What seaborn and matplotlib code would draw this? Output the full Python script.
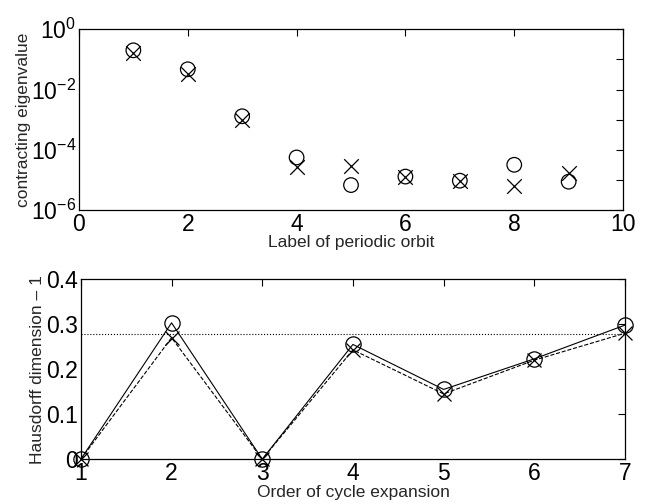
import numpy as np
import pandas as pd
import matplotlib
matplotlib.use("Agg")
import matplotlib.pyplot as plt
import matplotlib.ticker as mticker
import seaborn as sns

# top panel: contracting eigenvalues per periodic orbit
orbit_label = [1, 2, 3, 4, 5, 6, 7, 8, 9]
eig_circle = [0.2, 0.047, 1.3e-3, 5.6e-5, 6.8e-6, 1.3e-5, 9.5e-6, 3.2e-5, 8.8e-6]
eig_cross = [0.16, 0.032, 1.0e-3, 2.6e-5, 3.0e-5, 1.3e-5, 9.5e-6, 6.5e-6, 1.7e-5]

# bottom panel: Hausdorff dimension - 1 vs. order of cycle expansion
order = [1, 2, 3, 4, 5, 6, 7]
hd_circle = [0.0, 0.303, 0.0, 0.255, 0.155, 0.223, 0.298]
hd_cross = [0.0, 0.27, 0.0, 0.243, 0.145, 0.22, 0.28]
hd_ref = 0.278

sns.set_style("white")
plt.rcParams['font.family'] = ['Liberation Sans', 'DejaVu Sans']
plt.rcParams['mathtext.fontset'] = 'custom'
plt.rcParams['mathtext.rm'] = 'Liberation Sans'
plt.rcParams['mathtext.it'] = 'Liberation Sans'

fig = plt.figure(figsize=(6.47, 5.04), dpi=100)
ax1 = fig.add_axes([0.122, 0.583, 0.841, 0.359])
ax2 = fig.add_axes([0.125, 0.089, 0.841, 0.357])

tick_fs = 16.5
lab_fs = 12.5

# --- top ---
sns.scatterplot(x=orbit_label, y=eig_circle, ax=ax1, marker='o', s=110,
                facecolors='none', edgecolor='k', linewidth=0.9)
sns.scatterplot(x=orbit_label, y=eig_cross, ax=ax1, marker='x', s=110,
                color='k', linewidth=0.9)
ax1.set_yscale('log')
ax1.set_xlim(0, 10)
ax1.set_ylim(1e-6, 1e0)
ax1.set_xticks([0, 2, 4, 6, 8, 10])
ax1.yaxis.set_major_locator(mticker.FixedLocator([1e-6, 1e-4, 1e-2, 1e0]))
ax1.yaxis.set_minor_locator(mticker.FixedLocator([1e-5, 1e-3, 1e-1]))
ax1.yaxis.set_major_formatter(mticker.FuncFormatter(
    lambda v, p: r'$10^{%d}$' % round(np.log10(v))))
ax1.yaxis.set_minor_formatter(mticker.NullFormatter())
ax1.set_xlabel('Label of periodic orbit', fontsize=lab_fs, labelpad=-1)
ax1.set_ylabel('contracting eigenvalue', fontsize=lab_fs, labelpad=0)

# --- bottom ---
sns.lineplot(x=order, y=hd_circle, ax=ax2, color='k', linewidth=0.8,
             marker='o', markersize=11, markerfacecolor='none',
             markeredgecolor='k', markeredgewidth=0.9, clip_on=False)
sns.lineplot(x=order, y=hd_cross, ax=ax2, color='k', linewidth=0.8,
             linestyle='--', dashes=(6, 4), marker='x', markersize=10,
             markeredgecolor='k', markeredgewidth=0.9, clip_on=False)
ax2.axhline(hd_ref, color='k', linestyle=':', linewidth=0.8)
ax2.set_xlim(1, 7)
ax2.set_ylim(0, 0.4)
ax2.set_xticks(order)
ax2.set_yticks([0, 0.1, 0.2, 0.3, 0.4])
ax2.set_yticklabels(['0', '0.1', '0.2', '0.3', '0.4'])
ax2.set_xlabel('Order of cycle expansion', fontsize=lab_fs, labelpad=0)
ax2.set_ylabel('Hausdorff dimension \u2013 1', fontsize=lab_fs, labelpad=1)

for ax in (ax1, ax2):
    for sp in ax.spines.values():
        sp.set_visible(True)
        sp.set_color('k')
        sp.set_linewidth(0.9)
    ax.tick_params(which='both', direction='in', top=True, right=True,
                   length=5, width=0.8, labelsize=tick_fs, pad=2, colors='k')
    ax.tick_params(which='minor', length=5)

fig.savefig('out.png', dpi=100)
